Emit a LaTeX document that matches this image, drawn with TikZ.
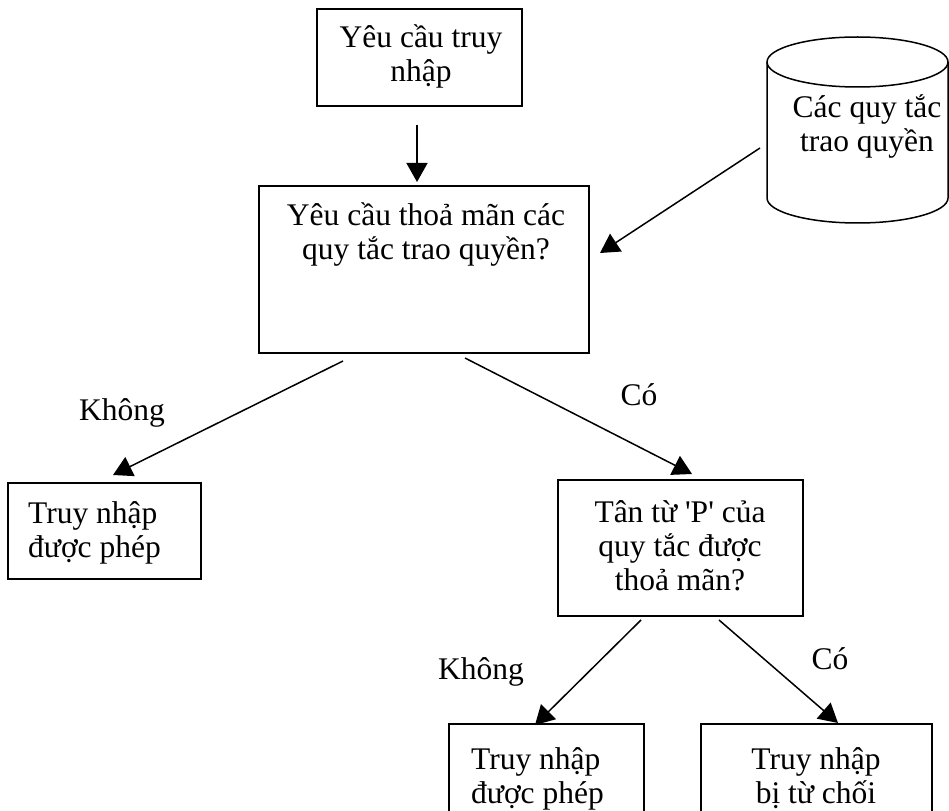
\documentclass[tikz,border=0pt]{standalone}
\usepackage{fontspec}
\setmainfont{Liberation Serif}
\newfontfamily\plainfont{Liberation Serif}
\usetikzlibrary{arrows.meta}
\begin{document}
\begin{tikzpicture}[x=1pt,y=-1pt,
  every node/.style={font=\fontsize{31.5}{34}\selectfont},
  box/.style={draw, line width=1.5pt, inner sep=0pt},
  txt/.style={align=center, inner sep=0pt, anchor=base},
  ltxt/.style={align=left, inner sep=0pt, anchor=base west},
  lbl/.style={inner sep=0pt, anchor=base},
  arr/.style={line width=1.5pt, -{Triangle[length=19pt,width=21pt]}},
  outline/.style={line width=1.5pt}]
\useasboundingbox (0,0) rectangle (949,810);

% top request box
\node[box, minimum width=205pt, minimum height=97pt] (req) at (419.5,57.5) {};
\node[txt] (reqt) at (421,82) {Yêu cầu truy\\nhập};

% main check box
\node[box, minimum width=330pt, minimum height=167pt] (chk) at (424,269.5) {};
\node[txt] (chkt) at (426,259) {Yêu cầu thoả mãn các\\quy tắc trao quyền?};

% cylinder (rules store)
\draw[outline] (767,62) -- (767,198) arc[start angle=180, end angle=360, x radius=90.5pt, y radius=25pt] -- (948,62);
\draw[outline] (857.5,62) ellipse[x radius=90.5pt, y radius=25pt];
\node[txt] (rules) at (867,152) {Các quy tắc\\trao quyền};

% left result box
\node[box, minimum width=193pt, minimum height=96pt] (ok1) at (104.5,531) {};
\node[ltxt] (ok1t) at (28,557) {Truy nhập\\được phép};

% predicate box
\node[box, minimum width=245pt, minimum height=136pt] (pred) at (680.5,548) {};
\node[txt] (predt) at (680,590) {Tân từ {\plainfont'}P{\plainfont'} của\\quy tắc được\\thoả mãn?};

% bottom boxes
\node[box, minimum width=195pt, minimum height=88pt] (ok2) at (546.5,768) {};
\node[ltxt] (ok2t) at (471,803) {Truy nhập\\được phép};
\node[box, minimum width=231pt, minimum height=88pt] (deny) at (816.5,768) {};
\node[txt] (denyt) at (816,803) {Truy nhập\\bị từ chối};

% labels
\node[lbl] (no1) at (122,420) {Không};
\node[lbl] (yes1) at (639,405) {Có};
\node[lbl] (no2) at (481,679) {Không};
\node[lbl] (yes2) at (830,669) {Có};

% connector end points
\coordinate (a0s) at (417,125);  \coordinate (a0e) at (417,182);
\coordinate (c1s) at (760,148);  \coordinate (c1e) at (600,253);
\coordinate (n1s) at (343,361);  \coordinate (n1e) at (113,475);
\coordinate (y1s) at (465,358);  \coordinate (y1e) at (692,474);
\coordinate (n2s) at (641,620);  \coordinate (n2e) at (535,725);
\coordinate (y2s) at (719,620);  \coordinate (y2e) at (838,723);

\draw[arr] (a0s) -- (a0e);
\draw[arr] (c1s) -- (c1e);
\draw[arr] (n1s) -- (n1e);
\draw[arr] (y1s) -- (y1e);
\draw[arr] (n2s) -- (n2e);
\draw[arr] (y2s) -- (y2e);
\end{tikzpicture}
\end{document}
